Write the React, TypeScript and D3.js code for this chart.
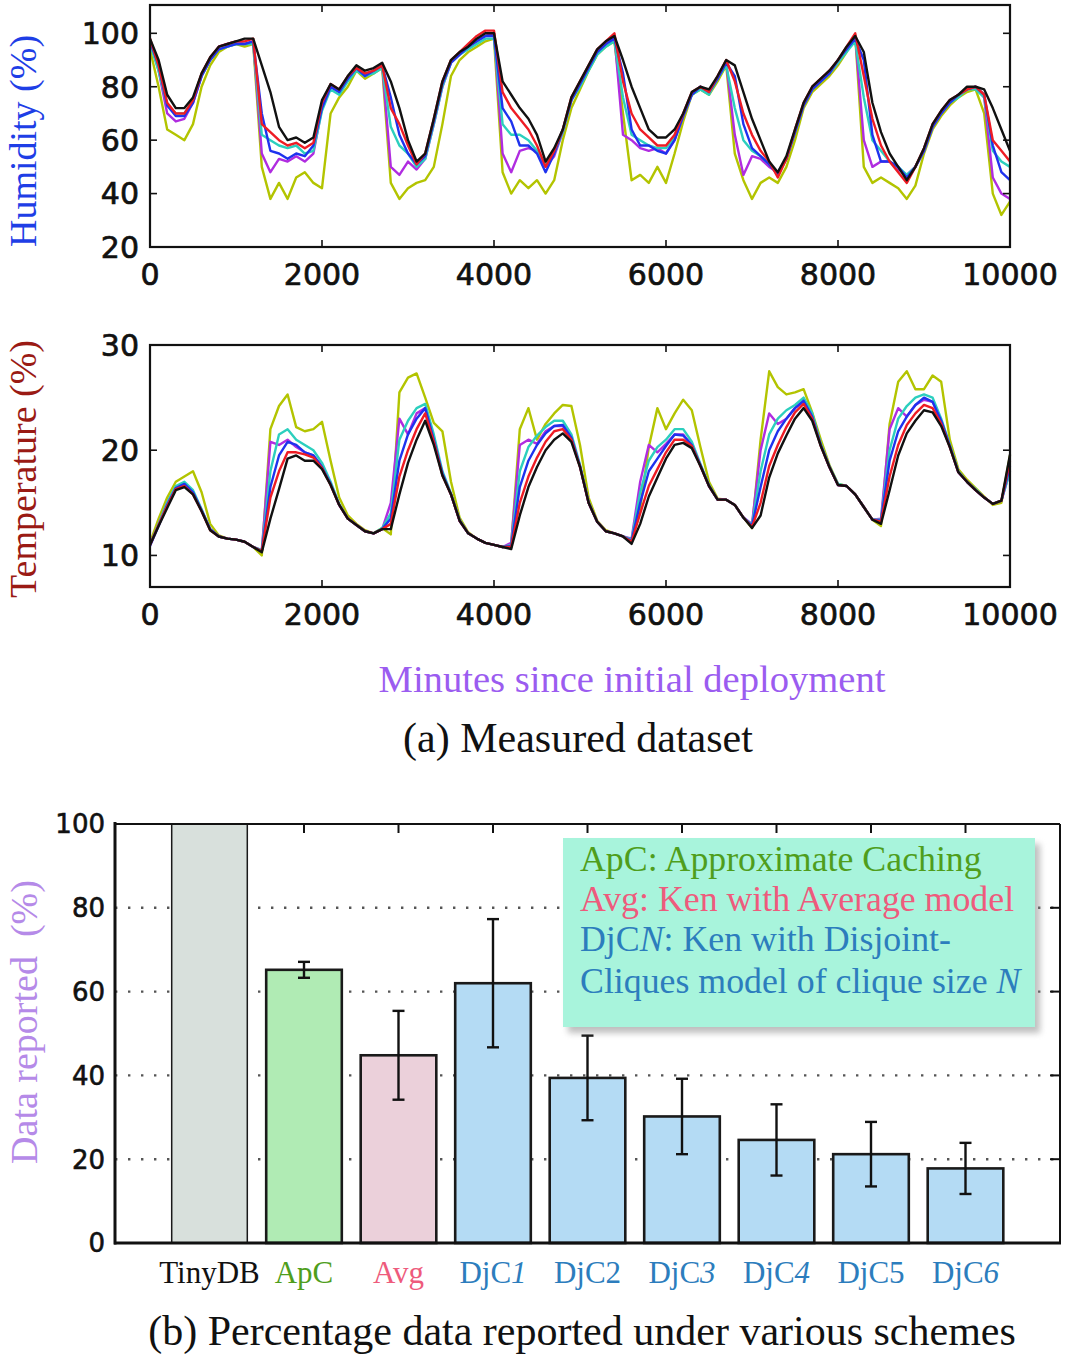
import React from "react";
import * as d3 from "d3";

// ---------- Data: (a) measured dataset, sampled every 100 minutes ----------
const MINUTES = d3.range(0, 10001, 100);

const H_BLACK = [98,90,77,72,72,76,85,91,95,96, 97,98,98,88,78,65,60,61,59,61, 75,81,79,84,88,86,87,89,82,72, 60,52,55,68,82,90,93,95,98,100, 100,82,77,72,68,62,52,57,64,76, 82,88,94,97,99,90,80,72,64,61, 61,64,70,78,80,79,84,90,88,78, 68,60,52,48,54,64,74,80,83,86, 90,95,99,93,74,63,55,50,45,50, 57,66,71,75,77,80,80,79,72,64, 56];
const H_RED = [98,88,74,70,70,75,85,91,95,96, 97,97,98,66,63,60,58,59,57,59, 74,81,79,84,87,85,86,88,72,66, 58,51,55,68,82,90,93,96,99,101, 101,78,72,68,64,58,50,56,64,76, 82,88,94,97,100,82,70,64,61,58, 58,62,70,78,80,78,84,90,82,70, 62,56,52,46,53,64,74,80,83,86, 90,95,100,84,68,58,52,48,44,50, 57,66,71,75,77,79,80,77,60,56, 52];
const H_BLUE = [97,88,73,69,69,74,84,90,94,95, 96,96,97,70,56,55,53,55,54,58, 72,80,78,83,87,84,86,88,76,62, 55,51,54,67,81,89,92,95,97,99, 99,72,67,58,58,55,48,55,64,75, 81,87,93,96,98,85,64,58,58,56, 55,60,69,77,80,78,83,89,84,66, 57,54,51,47,53,63,73,79,82,85, 90,94,98,90,62,52,52,50,46,50, 56,65,70,74,77,79,80,77,58,48, 45];
const H_CYAN = [96,86,73,70,70,75,84,90,94,95, 96,96,96,62,60,58,57,58,55,56, 71,79,77,82,86,84,85,87,65,58, 55,50,53,66,80,89,92,94,96,98, 98,66,62,62,60,56,51,55,63,75, 80,86,92,95,97,76,62,60,58,57, 57,61,69,77,79,77,83,88,72,60, 56,54,51,48,53,63,73,79,82,85, 89,93,97,76,60,56,52,50,47,50, 56,65,70,74,76,79,79,76,56,52, 50];
const H_MAGENTA = [97,86,70,67,68,74,84,90,95,96, 97,96,97,55,48,53,52,54,52,55, 72,80,78,83,87,84,86,88,50,47, 52,49,53,66,80,89,92,95,97,99, 100,55,48,56,57,56,50,54,63,75, 81,87,93,96,99,62,60,57,56,57, 55,60,69,77,80,78,83,89,62,47, 54,53,50,48,53,63,73,79,82,85, 89,94,99,60,50,52,52,49,47,50, 56,65,70,74,77,79,80,76,46,40, 38];
const H_YELLOW = [94,80,64,62,60,66,80,88,93,95, 96,95,96,50,38,44,38,46,48,44, 42,70,76,80,86,83,85,87,44,38, 42,44,45,50,66,84,90,93,95,97, 98,48,40,45,42,45,40,45,60,72, 79,86,92,95,97,70,45,47,44,50, 44,55,67,77,79,77,82,88,55,45, 38,44,46,44,50,60,72,78,81,84, 88,93,99,50,44,46,44,42,38,43, 55,64,69,73,76,78,79,70,40,32, 37];

const T_BLACK = [11,12.8,14.5,16.2,16.5,15.8,14.2,12.4,11.8,11.6, 11.5,11.3,10.8,10.3,13.5,16.3,19.2,19.5,19,19, 18.2,16.7,14.8,13.5,12.9,12.3,12.1,12.5,12.5,15.8, 18.8,21,22.8,20.5,17.6,15.8,13.3,12.1,11.6,11.2, 11,10.8,10.6,13.8,16.5,18.4,20,21,21.6,20.8, 18.4,15,13.2,12.3,12.1,11.8,11.1,13,15.6,17.4, 19.2,20.5,20.7,20.2,18.5,16.6,15.3,15.3,14.8,13.6, 12.6,13.8,17.4,19.7,21.4,23,24,22.8,20.4,18.4, 16.7,16.6,15.8,14.6,13.4,13,16.2,19.5,21.6,22.8, 23.8,23.6,22.3,20.3,17.9,17,16.2,15.5,14.9,15.2, 19.6];
const T_RED = [11,12.9,14.7,16.3,16.6,15.8,14.2,12.4,11.8,11.6, 11.5,11.3,10.8,10.4,15.5,18,19.8,19.8,19.6,19.3, 18.3,16.7,14.8,13.5,12.9,12.3,12.1,12.5,13,17.5, 20,22,23.5,20.8,17.6,15.8,13.3,12.1,11.6,11.2, 11,10.8,10.8,15,17.5,19.3,20.8,21.8,22,21, 18.4,15,13.2,12.3,12.1,11.8,11.3,14,16.6,18.2, 19.8,21,21,20.4,18.5,16.6,15.3,15.3,14.8,13.6, 12.7,15,18.5,20.5,22.2,23.6,24.4,23,20.4,18.4, 16.7,16.6,15.8,14.6,13.4,13.2,17.5,20.5,22.4,23.5, 24.3,24,22.5,20.3,17.9,17,16.2,15.5,14.9,15.2, 19];
const T_BLUE = [10.9,12.8,14.8,16.4,16.8,16,14.3,12.5,11.8,11.6, 11.5,11.3,10.8,10.4,16.5,19.5,20.8,20.5,19.8,19.5, 18.4,16.8,14.8,13.5,12.9,12.3,12.1,12.5,13.5,19, 21.5,23,24,21,17.8,15.8,13.3,12.1,11.6,11.2, 11,10.8,10.9,16.5,19,20.5,21.6,22.3,22.4,21.2, 18.5,15,13.2,12.3,12.1,11.8,11.4,15,18,19.2, 20.4,21.5,21.4,20.5,18.6,16.6,15.3,15.3,14.8,13.6, 12.8,16.5,20,21.8,23,24,24.7,23.2,20.5,18.4, 16.7,16.6,15.8,14.6,13.4,13.3,19,21.8,23.2,24.3, 25,24.6,22.8,20.4,17.9,17,16.2,15.5,14.9,15.2, 18.5];
const T_CYAN = [11,13,15,16.6,17,16.2,14.4,12.5,11.8,11.6, 11.5,11.3,10.8,10.5,18,21.5,22,21,20.5,20, 18.8,17,14.9,13.5,12.9,12.3,12.1,12.6,14,21, 22.8,24,24.4,21.5,18,15.9,13.4,12.1,11.6,11.2, 11,10.8,11,18,20.3,21.4,22.2,22.8,22.8,21.5, 18.6,15.1,13.2,12.3,12.1,11.8,11.5,16,19,20.3, 21,22,22,20.8,18.7,16.7,15.3,15.3,14.8,13.6, 12.9,18,21.5,23,23.8,24.3,25,23.5,20.6,18.5, 16.8,16.6,15.8,14.6,13.4,13.4,20,23,24.2,25, 25.3,25,23,20.5,18,17,16.3,15.5,14.9,15.2, 18];
const T_MAGENTA = [11,13,15,16.5,16.8,16,14.3,12.5,11.8,11.6, 11.5,11.3,10.8,10.5,20.8,20.5,21,20.3,19.8,19.5, 18.5,16.8,14.8,13.5,12.9,12.3,12.1,12.5,15,23, 21.5,23.5,24,21,17.8,15.8,13.3,12.1,11.6,11.2, 11,10.8,11.2,20.5,21,20.6,21.8,22.3,22.3,21.2, 18.5,15,13.2,12.3,12.1,11.8,11.6,17,20.5,19.8, 20.6,21.5,21.5,20.5,18.6,16.6,15.3,15.3,14.8,13.6, 13,20,23.5,22.5,23,24,24.6,23.2,20.5,18.4, 16.7,16.6,15.8,14.6,13.4,13.5,22,24,23.2,24.3, 24.8,24.6,22.8,20.4,17.9,17,16.2,15.5,14.9,15.2, 18];
const T_YELLOW = [11.2,13.5,15.5,17,17.5,18,16,13,11.9,11.6, 11.5,11.3,10.8,10,22,24.2,25.3,22.2,21.8,22, 22.7,19,15.5,13.8,13,12.4,12.1,12.6,12,25.5, 26.9,27.3,25,22.6,21.8,17,13.6,12.2,11.6,11.2, 11,10.8,11,22,24,21,22.5,23.5,24.3,24.2, 20.5,15.5,13.3,12.4,12.1,11.8,11.4,14.5,20.3,24, 22,23.5,24.8,23.8,20.3,17,15.4,15.3,14.8,13.6, 12.6,21,27.5,26,25.3,25.5,25.8,23.6,21,18.6, 16.8,16.6,15.8,14.6,13.4,12.8,22.5,26.5,27.5,25.8, 25.8,27.1,26.5,21,18.2,17.2,16.4,15.6,14.8,15, 19.5];

const X_TICKS = [0, 2000, 4000, 6000, 8000, 10000];
const H_TICKS = [20, 40, 60, 80, 100];
const T_TICKS = [10, 20, 30];

// ---------- Data: (b) percentage data reported ----------
const SCHEMES = ["TinyDB", "ApC", "Avg", "DjC1", "DjC2", "DjC3", "DjC4", "DjC5", "DjC6"];
const REPORTED = [100, 65.2, 44.8, 62, 39.4, 30.2, 24.6, 21.2, 17.8];
const REPORTED_ERR = [0, 1.9, 10.6, 15.3, 10.1, 9, 8.5, 7.7, 6.1];
const BAR_TICKS = [0, 20, 40, 60, 80, 100];

// ---------- Styles ----------
const H_SERIES = [
  { v: H_YELLOW, c: "#b3c400" },
  { v: H_MAGENTA, c: "#b02ce0" },
  { v: H_CYAN, c: "#2ccfbe" },
  { v: H_BLUE, c: "#1e32ee" },
  { v: H_RED, c: "#ee1c24" },
  { v: H_BLACK, c: "#111111" },
];
const T_SERIES = [
  { v: T_YELLOW, c: "#b3c400" },
  { v: T_MAGENTA, c: "#b02ce0" },
  { v: T_CYAN, c: "#2ccfbe" },
  { v: T_BLUE, c: "#1e32ee" },
  { v: T_RED, c: "#ee1c24" },
  { v: T_BLACK, c: "#111111" },
];
const BAR_FILLS = ["#d8e0dc", "#b0ebb4", "#ebd0da", "#b4dbf4", "#b4dbf4", "#b4dbf4", "#b4dbf4", "#b4dbf4", "#b4dbf4"];
const LABEL_COLORS = ["#111", "#4f9e1c", "#ee5b7c", "#2c7dbd", "#2c7dbd", "#2c7dbd", "#2c7dbd", "#2c7dbd", "#2c7dbd"];
const ITALIC_DIGIT = [false, false, false, true, false, true, true, false, true];

const SANS = "'DejaVu Sans', sans-serif";
const SERIF = "'Liberation Serif', 'Times New Roman', serif";

function TimePanel({ series, y, ticks, top, bottom, labelY }: any) {
  const x = d3.scaleLinear().domain([0, 10000]).range([150, 1010]);
  const line = d3.line<number>().x((_, i) => x(MINUTES[i])).y((d) => y(d));
  const inner = ticks.filter((t: number) => y(t) > top + 2 && y(t) < bottom - 2);
  return (
    <g>
      {series.map((s: any, i: number) => (
        <path key={i} d={line(s.v) || ""} fill="none" stroke={s.c} strokeWidth={2.4} strokeLinejoin="round" />
      ))}
      <rect x={150} y={top} width={860} height={bottom - top} fill="none" stroke="#111" strokeWidth={2.2} />
      {X_TICKS.slice(1, -1).map((t) => (
        <g key={t}>
          <line x1={x(t)} x2={x(t)} y1={bottom} y2={bottom - 7} stroke="#111" strokeWidth={1.6} />
          <line x1={x(t)} x2={x(t)} y1={top} y2={top + 7} stroke="#111" strokeWidth={1.6} />
        </g>
      ))}
      {inner.map((t: number) => (
        <g key={t}>
          <line x1={150} x2={157} y1={y(t)} y2={y(t)} stroke="#111" strokeWidth={1.6} />
          <line x1={1010} x2={1003} y1={y(t)} y2={y(t)} stroke="#111" strokeWidth={1.6} />
        </g>
      ))}
      {ticks.map((t: number) => (
        <text key={t} x={139} y={y(t)} dy="0.36em" textAnchor="end" fontFamily={SANS} fontSize={30}
          fill="#111" stroke="#111" strokeWidth={0.7}>{t}</text>
      ))}
      {X_TICKS.map((t) => (
        <text key={t} x={x(t)} y={labelY} textAnchor="middle" fontFamily={SANS} fontSize={30}
          fill="#111" stroke="#111" strokeWidth={0.7}>{t}</text>
      ))}
    </g>
  );
}

function BarPanel() {
  const x = d3.scaleLinear().domain([0, 10]).range([115, 1060]);
  const y = d3.scaleLinear().domain([0, 100]).range([1243, 824]);
  const bw = x(0.8) - x(0);
  return (
    <g>
      {BAR_TICKS.slice(1, -1).map((t) => (
        <line key={t} x1={115} x2={1060} y1={y(t)} y2={y(t)} stroke="#555" strokeWidth={2.4}
          strokeDasharray="2.4 10.6" />
      ))}
      {SCHEMES.map((s, i) => {
        const cx = x(i + 1);
        const v = REPORTED[i];
        return (
          <g key={s}>
            <rect x={cx - bw / 2} y={y(v)} width={bw} height={y(0) - y(v)} fill={BAR_FILLS[i]}
              stroke="#1a1a1a" strokeWidth={i === 0 ? 1.5 : 2.6} />
          </g>
        );
      })}
      {SCHEMES.map((s, i) => {
        const cx = x(i + 1);
        const e = REPORTED_ERR[i];
        if (!e) return null;
        const v = REPORTED[i];
        return (
          <g key={s + "e"} stroke="#111" strokeWidth={2.4}>
            <line x1={cx} x2={cx} y1={y(v + e)} y2={y(v - e)} />
            <line x1={cx - 6} x2={cx + 6} y1={y(v + e)} y2={y(v + e)} />
            <line x1={cx - 6} x2={cx + 6} y1={y(v - e)} y2={y(v - e)} />
          </g>
        );
      })}
      {/* frame */}
      <line x1={115} x2={1060} y1={824} y2={824} stroke="#111" strokeWidth={2} />
      <line x1={1060} x2={1060} y1={824} y2={1243} stroke="#111" strokeWidth={2} />
      <line x1={115} x2={115} y1={822} y2={1244.5} stroke="#111" strokeWidth={3} />
      <line x1={114} x2={1061} y1={1243} y2={1243} stroke="#111" strokeWidth={3} />
      {SCHEMES.slice(1).map((s, i) => (
        <line key={s} x1={x(i + 2)} x2={x(i + 2)} y1={824} y2={833} stroke="#111" strokeWidth={2} />
      ))}
      {BAR_TICKS.slice(1, -1).map((t) => (
        <line key={t} x1={1060} x2={1050} y1={y(t)} y2={y(t)} stroke="#111" strokeWidth={2} />
      ))}
      {BAR_TICKS.map((t) => (
        <text key={t} x={105} y={y(t)} dy="0.36em" textAnchor="end" fontFamily={SANS} fontSize={26}
          fill="#111" stroke="#111" strokeWidth={0.6}>{t}</text>
      ))}
      {SCHEMES.map((s, i) => {
        const base = s.startsWith("DjC") ? "DjC" : s;
        const digit = s.startsWith("DjC") ? s.slice(3) : "";
        return (
          <text key={s} x={x(i + 1)} y={1283} textAnchor="middle" fontFamily={SERIF} fontSize={31} fill={LABEL_COLORS[i]}>
            {base}
            {digit && <tspan fontStyle={ITALIC_DIGIT[i] ? "italic" : "normal"}>{digit}</tspan>}
          </text>
        );
      })}
      {/* legend */}
      <rect x={568} y={844} width={472} height={189} fill="#8a8a8a" opacity={0.55} filter="url(#blur)" />
      <rect x={563} y={838} width={472} height={189} fill="#a8f4dc" />
      <text x={580} y={871} fontFamily={SERIF} fontSize={35.8} fill="#4f9e1c">ApC: Approximate Caching</text>
      <text x={580} y={911} fontFamily={SERIF} fontSize={35.8} fill="#ee5b7c">Avg: Ken with Average model</text>
      <text x={580} y={951} fontFamily={SERIF} fontSize={35.8} fill="#2c7dbd">
        DjC<tspan fontStyle="italic">N</tspan>: Ken with Disjoint-
      </text>
      <text x={580} y={993} fontFamily={SERIF} fontSize={35.8} fill="#2c7dbd">
        Cliques model of clique size <tspan fontStyle="italic">N</tspan>
      </text>
    </g>
  );
}

export default function App() {
  const yH = d3.scaleLinear().domain([20, 110.6]).range([247, 5]);
  const yT = d3.scaleLinear().domain([7, 30]).range([587, 345]);
  return (
    <svg width={1067} height={1358} viewBox="0 0 1067 1358"
      style={{ position: "absolute", left: 0, top: 0, background: "#fff", display: "block" }}>
      <defs>
        <filter id="blur" x="-10%" y="-10%" width="120%" height="120%">
          <feGaussianBlur stdDeviation="3" />
        </filter>
      </defs>
      <rect x={0} y={0} width={1067} height={1358} fill="#fff" />
      <TimePanel series={H_SERIES} y={yH} ticks={H_TICKS} top={5} bottom={247} labelY={285} />
      <TimePanel series={T_SERIES} y={yT} ticks={T_TICKS} top={345} bottom={587} labelY={625} />
      <text transform="translate(36,141) rotate(-90)" textAnchor="middle" fontFamily={SERIF} fontSize={38} fill="#1e3ee6">Humidity (%)</text>
      <text transform="translate(36,469) rotate(-90)" textAnchor="middle" fontFamily={SERIF} fontSize={38} fill="#9a1a14">Temperature (%)</text>
      <text x={632} y={692} textAnchor="middle" fontFamily={SERIF} fontSize={38.6} fill="#9b5cf0">Minutes since initial deployment</text>
      <text x={578} y={752} textAnchor="middle" fontFamily={SERIF} fontSize={42} fill="#111">(a) Measured dataset</text>
      <BarPanel />
      <text transform="translate(37,1022) rotate(-90)" textAnchor="middle" fontFamily={SERIF} fontSize={38} fill="#b58ae8" xmlSpace="preserve">Data reported  (%)</text>
      <text x={582} y={1345} textAnchor="middle" fontFamily={SERIF} fontSize={42} fill="#111">(b) Percentage data reported under various schemes</text>
    </svg>
  );
}
